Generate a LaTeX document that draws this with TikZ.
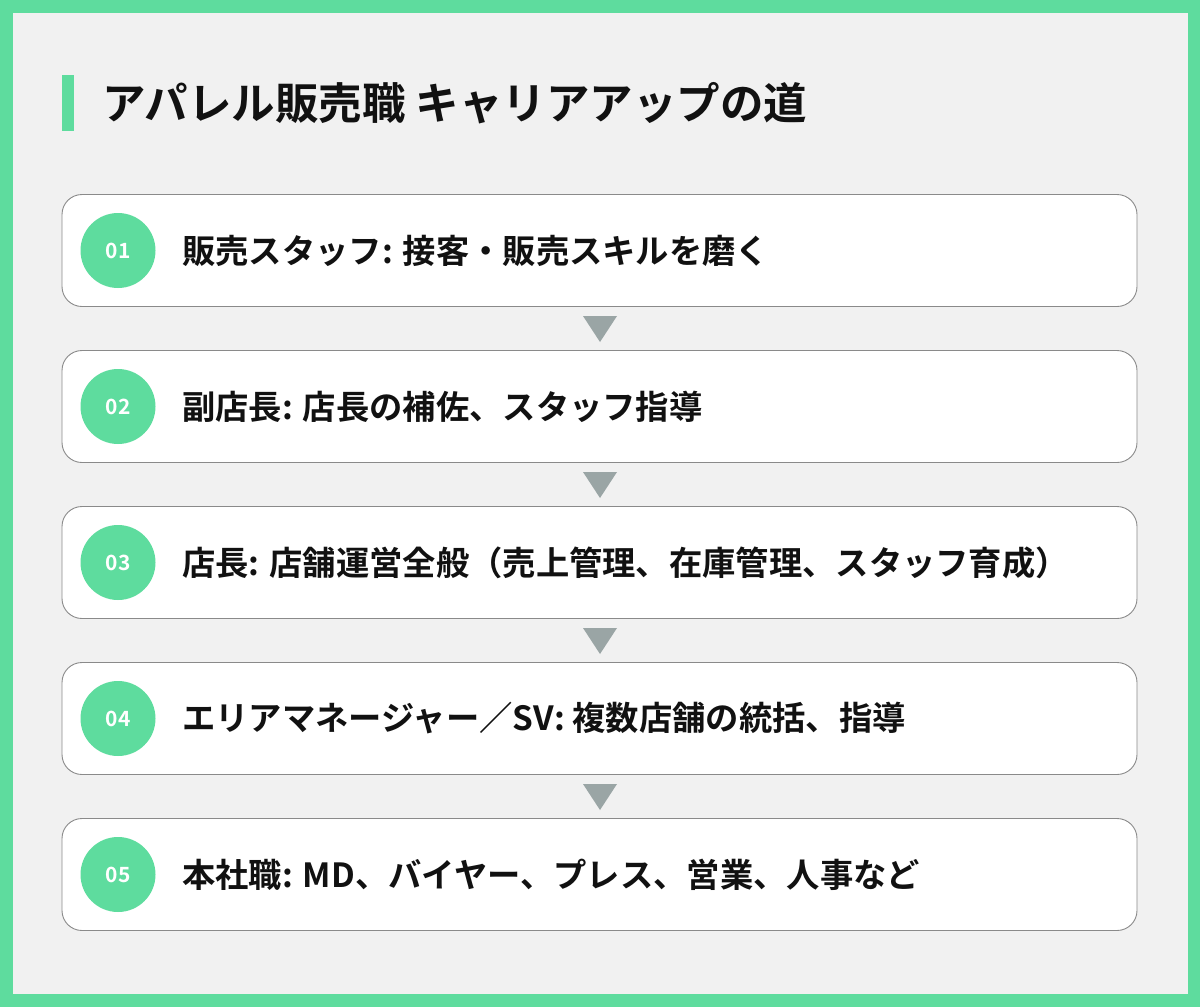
\documentclass[tikz,border=0pt]{standalone}
\usepackage{fontspec}
\setmainfont{Noto Sans CJK JP}[BoldFont={Noto Sans CJK JP Bold}]
\definecolor{brandgreen}{HTML}{5EDC9E}
\definecolor{bggray}{HTML}{F1F1F1}
\definecolor{boxline}{HTML}{8A8A8A}
\definecolor{arrowgray}{HTML}{9AA5A5}
\definecolor{ink}{HTML}{111111}
\tikzset{
  stepcard/.style={draw=boxline, line width=0.9pt, fill=white, rounded corners=20pt, minimum width=1075pt, minimum height=112pt, inner sep=0pt},
  numdot/.style={circle, fill=brandgreen, minimum size=75pt, inner sep=0pt, text=white, font=\bfseries\fontsize{21}{26}\selectfont},
  steptext/.style={anchor=west, inner sep=0pt, text=ink, font=\bfseries\fontsize{33.3}{40}\selectfont},
  downtri/.style={fill=arrowgray, draw=none}
}
\begin{document}
\begin{tikzpicture}[x=1pt,y=-1pt]
\useasboundingbox (0,0) rectangle (1200,1007);
\fill[brandgreen] (0,0) rectangle (1200,1007);
\fill[bggray] (12.5,12.5) rectangle (1188,994);
\fill[brandgreen] (62,75) rectangle (74,131);
\node[anchor=west, inner sep=0pt, text=ink, font=\bfseries\fontsize{43.5}{52}\selectfont] (title) at (102,103) {アパレル販売職 キャリアアップの道};
\foreach \i/\num/\txt in {0/01/{販売スタッフ: 接客・販売スキルを磨く},
                          1/02/{副店長: 店長の補佐、スタッフ指導},
                          2/03/{店長: 店舗運営全般（売上管理、在庫管理、スタッフ育成）},
                          3/04/{エリアマネージャー／SV: 複数店舗の統括、指導},
                          4/05/{本社職: MD、バイヤー、プレス、営業、人事など}} {
  \pgfmathsetmacro{\cy}{250.5+156*\i}
  \node[stepcard] (card\i) at (599.5,\cy) {};
  \node[numdot] (dot\i) at (118,\cy) {\num};
  \node[steptext] (label\i) at (182,\cy) {\txt};
}
\foreach \i in {0,1,2,3} {
  \pgfmathsetmacro{\ty}{316+156*\i}
  \fill[downtri] (583,\ty) -- (617,\ty) -- (600,\ty+26) -- cycle;
}
\end{tikzpicture}
\end{document}
